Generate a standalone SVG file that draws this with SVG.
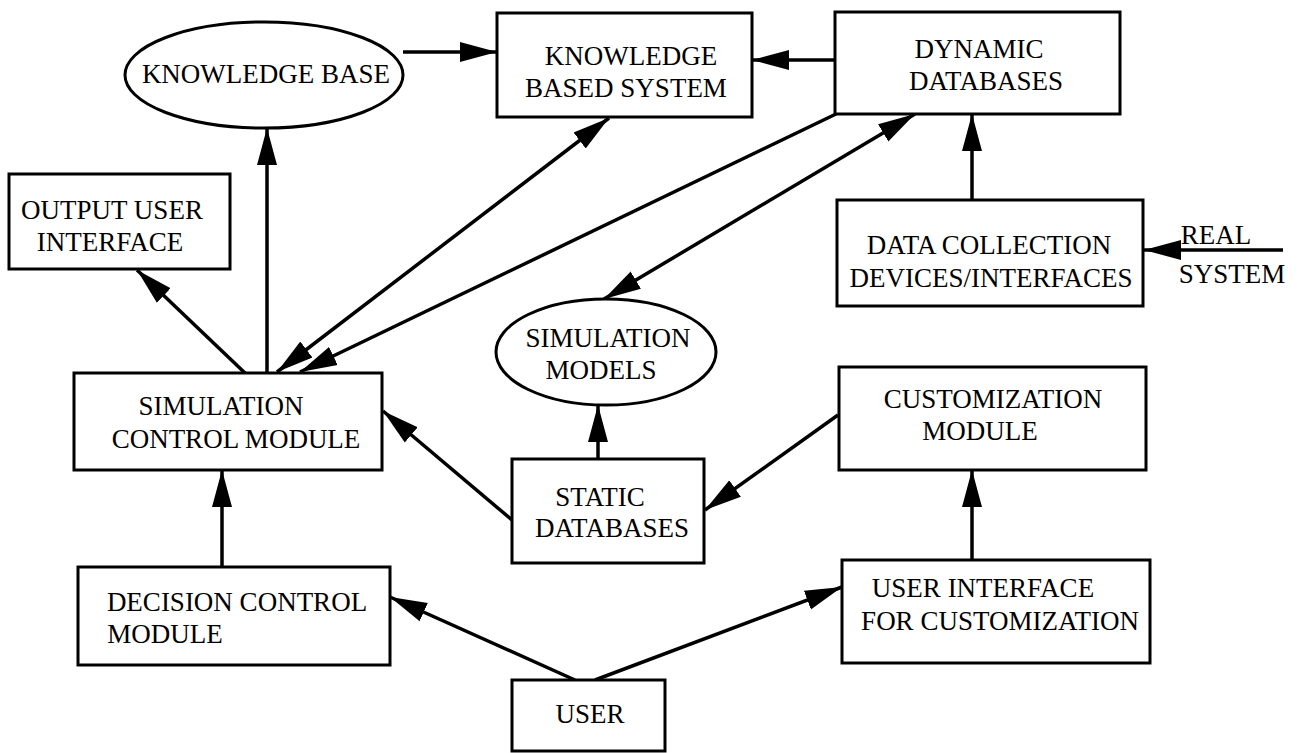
<svg xmlns="http://www.w3.org/2000/svg" width="1305" height="753" viewBox="0 0 1305 753">
<defs>
<style>
.box{fill:#fff;stroke:#000;stroke-width:3}
.t{font-family:'Liberation Serif','DejaVu Serif',serif;font-size:27px;fill:#000;text-anchor:middle}
.c{fill:none;stroke:#000;stroke-width:3.5}
</style>
<marker id="ah" markerUnits="userSpaceOnUse" markerWidth="38" markerHeight="22" refX="37" refY="10" orient="auto-start-reverse" viewBox="0 0 38 20">
<path d="M0,0 L37,10 L0,20 z" fill="#000"/>
</marker>
</defs>
<rect width="1305" height="753" fill="#fff"/>
<g id="connectors">
<path class="c" d="M403,52 L497,52" marker-end="url(#ah)"/>
<path class="c" d="M835,60 L752,60" marker-end="url(#ah)"/>
<path class="c" d="M267,373 L267,128" marker-end="url(#ah)"/>
<path class="c" d="M245,373 L137,270" marker-end="url(#ah)"/>
<path class="c" d="M277,372 L609,118" marker-start="url(#ah)" marker-end="url(#ah)"/>
<path class="c" d="M836,114 L300,372" marker-end="url(#ah)"/>
<path class="c" d="M604,299 L915,114" marker-start="url(#ah)" marker-end="url(#ah)"/>
<path class="c" d="M972,201 L972,114" marker-end="url(#ah)"/>
<path class="c" d="M1283,250 L1144,250" marker-end="url(#ah)"/>
<path class="c" d="M598,459 L598,405" marker-end="url(#ah)"/>
<path class="c" d="M512,520 L383,411" marker-end="url(#ah)"/>
<path class="c" d="M838,415 L705,510" marker-end="url(#ah)"/>
<path class="c" d="M222,567 L222,470" marker-end="url(#ah)"/>
<path class="c" d="M972,560 L972,470" marker-end="url(#ah)"/>
<path class="c" d="M575,680 L390,597" marker-end="url(#ah)"/>
<path class="c" d="M595,680 L842,587" marker-end="url(#ah)"/>
</g>
<g font-family="Liberation Serif, DejaVu Serif, serif">
<g id="knowledge-base">
<ellipse class="box" cx="264" cy="75" rx="139" ry="53"/>
<text class="t" x="266" y="83">KNOWLEDGE BASE</text>
</g>
<g id="knowledge-based-system">
<rect class="box" x="497" y="13" width="255" height="104"/>
<text class="t" x="631" y="65">KNOWLEDGE</text>
<text class="t" x="626" y="97">BASED SYSTEM</text>
</g>
<g id="dynamic-databases">
<rect class="box" x="835" y="12" width="285" height="102"/>
<text class="t" x="979" y="58">DYNAMIC</text>
<text class="t" x="986" y="90">DATABASES</text>
</g>
<g id="output-user-interface">
<rect class="box" x="9" y="174" width="221" height="95"/>
<text class="t" x="112" y="219">OUTPUT USER</text>
<text class="t" x="110" y="251">INTERFACE</text>
</g>
<g id="data-collection">
<rect class="box" x="837" y="200" width="306" height="106"/>
<text class="t" x="989" y="254">DATA COLLECTION</text>
<text class="t" x="991" y="287">DEVICES/INTERFACES</text>
</g>
<g id="real-system">
<text class="t" x="1216" y="244">REAL</text>
<text class="t" x="1232" y="283">SYSTEM</text>
</g>
<g id="simulation-models">
<ellipse class="box" cx="606" cy="352" rx="110" ry="53"/>
<text class="t" x="608" y="347">SIMULATION</text>
<text class="t" x="601" y="379">MODELS</text>
</g>
<g id="simulation-control-module">
<rect class="box" x="74" y="373" width="308" height="97"/>
<text class="t" x="221" y="415">SIMULATION</text>
<text class="t" x="236" y="448">CONTROL MODULE</text>
</g>
<g id="customization-module">
<rect class="box" x="839" y="367" width="307" height="103"/>
<text class="t" x="993" y="408">CUSTOMIZATION</text>
<text class="t" x="980" y="440">MODULE</text>
</g>
<g id="static-databases">
<rect class="box" x="512" y="459" width="192" height="104"/>
<text class="t" x="600" y="506">STATIC</text>
<text class="t" x="612" y="537">DATABASES</text>
</g>
<g id="decision-control-module">
<rect class="box" x="78" y="567" width="312" height="98"/>
<text class="t" x="237" y="611">DECISION CONTROL</text>
<text class="t" x="165" y="643">MODULE</text>
</g>
<g id="user-interface-customization">
<rect class="box" x="842" y="560" width="308" height="103"/>
<text class="t" x="983" y="597">USER INTERFACE</text>
<text class="t" x="1000" y="630">FOR CUSTOMIZATION</text>
</g>
<g id="user">
<rect class="box" x="512" y="680" width="153" height="71"/>
<text class="t" x="590" y="723">USER</text>
</g>
</g>
</svg>
